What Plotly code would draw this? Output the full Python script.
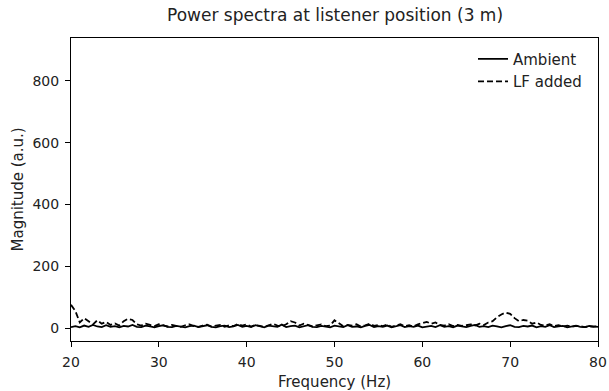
import plotly.graph_objects as go

FREQ_HZ = [20.0, 20.5, 21.0, 21.5, 22.0, 22.5, 23.0, 23.5, 24.0, 24.5,
           25.0, 25.5, 26.0, 26.5, 27.0, 27.5, 28.0, 28.5, 29.0, 29.5,
           30.0, 30.5, 31.0, 31.5, 32.0, 32.5, 33.0, 33.5, 34.0, 34.5,
           35.0, 35.5, 36.0, 36.5, 37.0, 37.5, 38.0, 38.5, 39.0, 39.5,
           40.0, 40.5, 41.0, 41.5, 42.0, 42.5, 43.0, 43.5, 44.0, 44.5,
           45.0, 45.5, 46.0, 46.5, 47.0, 47.5, 48.0, 48.5, 49.0, 49.5,
           50.0, 50.5, 51.0, 51.5, 52.0, 52.5, 53.0, 53.5, 54.0, 54.5,
           55.0, 55.5, 56.0, 56.5, 57.0, 57.5, 58.0, 58.5, 59.0, 59.5,
           60.0, 60.5, 61.0, 61.5, 62.0, 62.5, 63.0, 63.5, 64.0, 64.5,
           65.0, 65.5, 66.0, 66.5, 67.0, 67.5, 68.0, 68.5, 69.0, 69.5,
           70.0, 70.5, 71.0, 71.5, 72.0, 72.5, 73.0, 73.5, 74.0, 74.5,
           75.0, 75.5, 76.0, 76.5, 77.0, 77.5, 78.0, 78.5, 79.0, 79.5,
           80.0]

AMBIENT = [3, 6, 2, 8, 4, 10, 5, 3, 9, 4,
           6, 2, 7, 5, 10, 4, 3, 8, 5, 2,
           6, 9, 4, 3, 7, 5, 2, 6, 8, 3,
           5, 9, 4, 2, 6, 8, 3, 5, 10, 4,
           7, 3, 9, 5, 2, 8, 6, 4, 11, 3,
           6, 8, 2, 5, 9, 4, 3, 7, 5, 2,
           8, 6, 3, 9, 4, 5, 2, 7, 10, 3,
           6, 4, 8, 2, 5, 9, 3, 6, 4, 8,
           2, 5, 7, 3, 9, 4, 6, 2, 8, 5,
           3, 7, 10, 4, 6, 3, 8, 5, 2, 6,
           9, 4, 3, 7, 5, 8, 2, 6, 4, 9,
           3, 5, 7, 2, 6, 8, 4, 3, 7, 5,
           4]

LF_ADDED = [75, 55, 18, 32, 22, 12, 25, 14, 20, 10,
            15, 8, 22, 30, 26, 12, 8, 14, 10, 6,
            12, 8, 5, 10, 7, 4, 9, 12, 6, 4,
            8, 11, 5, 7, 10, 4, 9, 6, 13, 8,
            12, 5, 10, 7, 4, 9, 14, 8, 6, 12,
            22, 18, 8, 14, 10, 5, 9, 12, 6, 8,
            25, 14, 6, 10, 8, 12, 5, 9, 14, 7,
            10, 6, 11, 4, 8, 12, 6, 9, 5, 12,
            16, 20, 14, 18, 10, 8, 12, 6, 10, 7,
            9, 12, 8, 14, 10, 18, 22, 35, 44, 50,
            46, 32, 22, 26, 24, 14, 18, 10, 8, 12,
            6, 9, 5, 8, 4, 7, 6, 3, 5, 4,
            6]

X_TICKS = [20, 30, 40, 50, 60, 70, 80]
Y_TICKS = [0, 200, 400, 600, 800]

FONT = "DejaVu Sans"
TXT = "#222"

W, H = 609, 391
L, R, T, B = 71, 11, 38, 50

fig = go.Figure()
fig.add_trace(go.Scatter(x=FREQ_HZ, y=AMBIENT, mode="lines", name="Ambient",
                         line=dict(color="black", width=1.8)))
fig.add_trace(go.Scatter(x=FREQ_HZ, y=LF_ADDED, mode="lines", name="LF added",
                         line=dict(color="black", width=1.8, dash="6px,3px")))

axis_common = dict(showgrid=False, zeroline=False, showline=True, mirror=True,
                   linecolor="black", linewidth=1, ticks="outside", ticklen=5,
                   tickcolor="black", automargin=False, ticklabelstandoff=3,
                   tickfont=dict(family=FONT, size=14, color=TXT))

fig.update_layout(
    width=W, height=H,
    margin=dict(l=L, r=R, t=T, b=B, autoexpand=False),
    paper_bgcolor="white", plot_bgcolor="white",
    xaxis=dict(range=[20, 80], tickvals=X_TICKS, **axis_common),
    yaxis=dict(range=[-42, 939], tickvals=Y_TICKS, **axis_common),
    legend=dict(x=(587 - L) / (W - L - R), y=0.985, xanchor="right", yanchor="top",
                bgcolor="rgba(255,255,255,0)",
                font=dict(family=FONT, size=15, color=TXT), borderwidth=0,
                itemwidth=30, tracegroupgap=0),
    showlegend=True,
    annotations=[
        dict(text="Power spectra at listener position (3 m)", xref="paper", yref="paper",
             x=0.5, y=1 + 23 / (H - T - B), xanchor="center", yanchor="middle", showarrow=False,
             font=dict(family=FONT, size=17, color=TXT)),
        dict(text="Frequency (Hz)", xref="paper", yref="paper",
             x=0.5, y=-(382 - (H - B)) / (H - T - B), xanchor="center", yanchor="middle",
             showarrow=False, font=dict(family=FONT, size=15, color=TXT)),
        dict(text="Magnitude (a.u.)", xref="paper", yref="paper",
             x=-(L - 17) / (W - L - R), y=0.5, xanchor="center", yanchor="middle",
             textangle=-90, showarrow=False, font=dict(family=FONT, size=15, color=TXT)),
    ],
)

fig.write_html("out.html", config={"displayModeBar": False},
               post_script="document.body.style.margin='0';document.body.style.overflow='hidden';")
